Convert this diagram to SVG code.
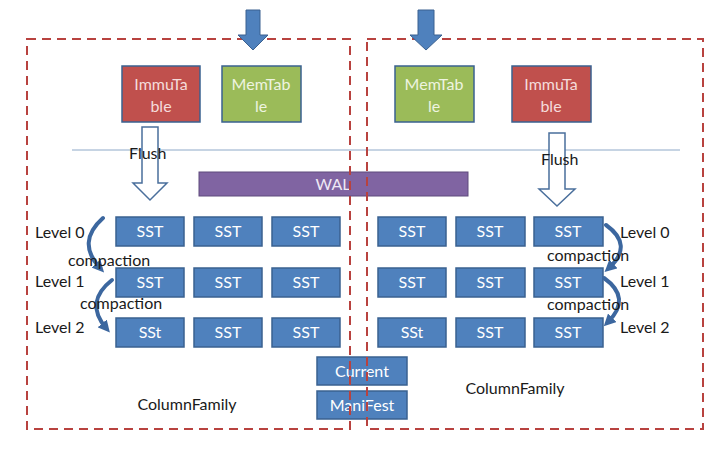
<svg xmlns="http://www.w3.org/2000/svg" width="724" height="454" viewBox="0 0 724 454">
<defs>
<style>
.cf{fill:none;stroke:#b8423f;stroke-width:2;stroke-dasharray:9 6}
.sst{fill:#4f81bd;stroke:#3a6190;stroke-width:1.5}
.wt{font-family:Lato,"Open Sans",sans-serif;font-size:16px;fill:#ffffff;text-anchor:middle}
.lb{font-family:Lato,"Open Sans",sans-serif;font-size:16px;fill:#1a1a1a}
.imm{fill:#c0504d;stroke:#3a6190;stroke-width:1.5}
.mem{fill:#9bbb59;stroke:#3a6190;stroke-width:1.5}
.hol{fill:#ffffff;stroke:#4a6f9c;stroke-width:1.5}
.cur{fill:none;stroke:#3c679f;stroke-width:4;stroke-linecap:round}
.blk{fill:#4f81bd;stroke:#3a6190;stroke-width:1}
</style>
<marker id="ah" viewBox="0 0 10 10" refX="5" refY="5" markerWidth="3" markerHeight="3" orient="auto" markerUnits="strokeWidth">
<path d="M0,0 L10,5 L0,10 z" fill="#3c679f"/>
</marker>
</defs>
<rect width="724" height="454" fill="#ffffff"/>

<line x1="72" y1="150" x2="680" y2="150" stroke="#8ea9c8" stroke-width="1"/>

<g id="immutable-left"><rect class="imm" x="122" y="66" width="78" height="56"/><text class="wt" x="161" y="90" style="fill:#f5dcdb">ImmuTa</text><text class="wt" x="161" y="112" style="fill:#f5dcdb">ble</text></g>
<g id="memtable-left"><rect class="mem" x="222" y="66" width="79" height="56"/><text class="wt" x="261" y="90" style="fill:#eef4e0">MemTab</text><text class="wt" x="261" y="112" style="fill:#eef4e0">le</text></g>
<g id="memtable-right"><rect class="mem" x="395" y="66" width="79" height="56"/><text class="wt" x="434" y="90" style="fill:#eef4e0">MemTab</text><text class="wt" x="434" y="112" style="fill:#eef4e0">le</text></g>
<g id="immutable-right"><rect class="imm" x="512" y="66" width="79" height="56"/><text class="wt" x="551" y="90" style="fill:#f5dcdb">ImmuTa</text><text class="wt" x="551" y="112" style="fill:#f5dcdb">ble</text></g>

<g id="wal"><rect x="199" y="172" width="269" height="24" fill="#8064a2" stroke="#5f4a7d" stroke-width="1"/><text class="wt" x="333" y="190" style="fill:#eee8f5">WAL</text></g>

<g id="sst-left">
<rect class="sst" x="116" y="217" width="68" height="29"/><text class="wt" x="150" y="237">SST</text>
<rect class="sst" x="194" y="217" width="68" height="29"/><text class="wt" x="228" y="237">SST</text>
<rect class="sst" x="272" y="217" width="68" height="29"/><text class="wt" x="306" y="237">SST</text>
<rect class="sst" x="116" y="268" width="68" height="29"/><text class="wt" x="150" y="288">SST</text>
<rect class="sst" x="194" y="268" width="68" height="29"/><text class="wt" x="228" y="288">SST</text>
<rect class="sst" x="272" y="268" width="68" height="29"/><text class="wt" x="306" y="288">SST</text>
<rect class="sst" x="116" y="318" width="68" height="29"/><text class="wt" x="150" y="338">SSt</text>
<rect class="sst" x="194" y="318" width="68" height="29"/><text class="wt" x="228" y="338">SST</text>
<rect class="sst" x="272" y="318" width="68" height="29"/><text class="wt" x="306" y="338">SST</text>
</g>
<g id="sst-right">
<rect class="sst" x="378" y="217" width="68" height="29"/><text class="wt" x="412" y="237">SST</text>
<rect class="sst" x="456" y="217" width="69" height="29"/><text class="wt" x="490" y="237">SST</text>
<rect class="sst" x="534" y="217" width="69" height="29"/><text class="wt" x="568" y="237">SST</text>
<rect class="sst" x="378" y="268" width="68" height="29"/><text class="wt" x="412" y="288">SST</text>
<rect class="sst" x="456" y="268" width="69" height="29"/><text class="wt" x="490" y="288">SST</text>
<rect class="sst" x="534" y="268" width="69" height="29"/><text class="wt" x="568" y="288">SST</text>
<rect class="sst" x="378" y="318" width="68" height="29"/><text class="wt" x="412" y="338">SSt</text>
<rect class="sst" x="456" y="318" width="69" height="29"/><text class="wt" x="490" y="338">SST</text>
<rect class="sst" x="534" y="318" width="69" height="29"/><text class="wt" x="568" y="338">SST</text>
</g>

<g id="current"><rect class="sst" x="317" y="357" width="90" height="28"/><text class="wt" x="362" y="377">Current</text></g>
<g id="manifest"><rect class="sst" x="317" y="391" width="90" height="28"/><text class="wt" x="362" y="411">ManiFest</text></g>

<g id="connectors">
<path class="hol" d="M142,127 H158 V183 H167 L150,200 L133,183 H142 Z"/>
<path class="hol" d="M549,133 H565 V189 H575 L557,206 L539,189 H549 Z"/>
<path class="cur" d="M103,218 Q76,242 100,268" marker-end="url(#ah)"/>
<path class="cur" d="M112,280 Q84,302 106,328" marker-end="url(#ah)"/>
<path class="cur" d="M606,225 Q634,245 609,268" marker-end="url(#ah)"/>
<path class="cur" d="M604,278 Q632,298 608,322" marker-end="url(#ah)"/>
</g>

<g id="flush-labels"><text class="lb" x="129" y="159">Flush</text><text class="lb" x="541" y="165">Flush</text></g>

<g id="levels-left">
<text class="lb" x="35" y="238">Level 0</text>
<text class="lb" x="35" y="287">Level 1</text>
<text class="lb" x="35" y="333">Level 2</text>
<text class="lb" x="68" y="266">compaction</text>
<text class="lb" x="80" y="309">compaction</text>
</g>
<g id="levels-right">
<text class="lb" x="620" y="238">Level 0</text>
<text class="lb" x="620" y="287">Level 1</text>
<text class="lb" x="620" y="333">Level 2</text>
<text class="lb" x="547" y="261">compaction</text>
<text class="lb" x="547" y="310">compaction</text>
</g>

<g id="cf-left"><rect class="cf" x="27" y="39" width="323" height="390"/><text class="lb" x="187" y="410" text-anchor="middle">ColumnFamily</text></g>
<g id="cf-right"><rect class="cf" x="367" y="39" width="336" height="390"/><text class="lb" x="515" y="394" text-anchor="middle">ColumnFamily</text></g>

<g id="connectors-input">
<path class="blk" d="M246,10 H260 V35 H268 L253,50 L238,35 H246 Z"/>
<path class="blk" d="M418,10 H434 V35 H442 L426,50 L410,35 H418 Z"/>
</g>
</svg>
